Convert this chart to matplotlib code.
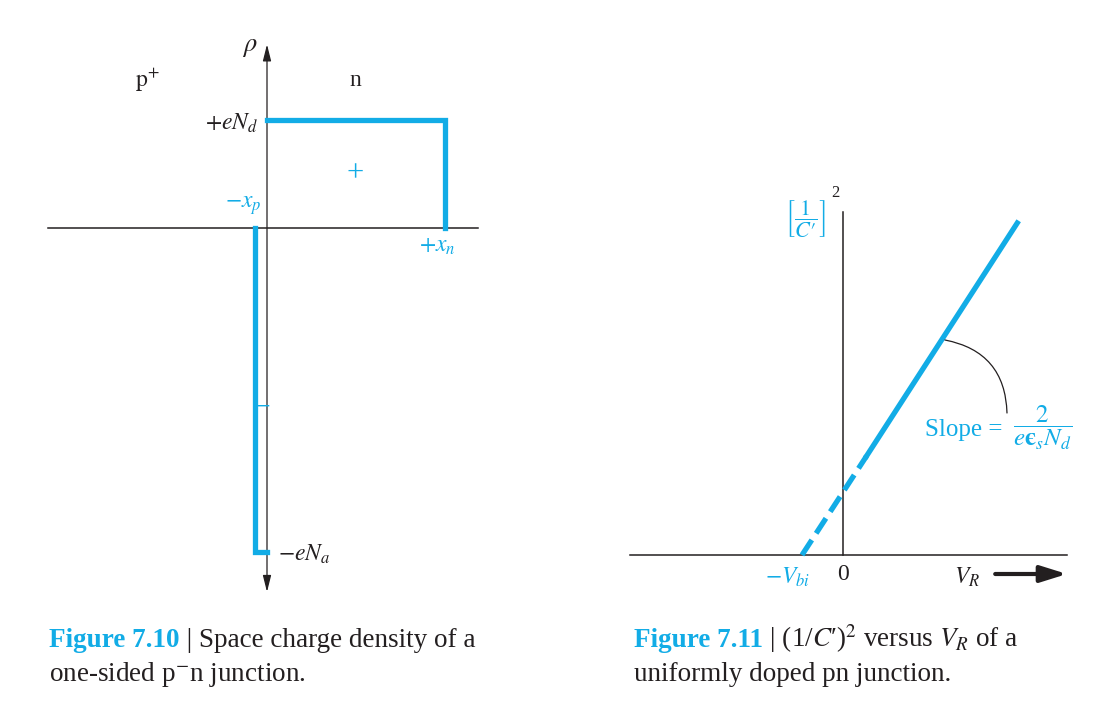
"""Space charge density of a one-sided pn junction and (1/C')^2 vs V_R."""
import matplotlib
matplotlib.use("Agg")
import matplotlib.pyplot as plt

plt.rcParams["font.family"] = ["Liberation Serif", "DejaVu Serif"]
plt.rcParams["mathtext.fontset"] = "stix"

BLUE = "#12ACE6"
BLACK = "#231F20"

# ── data: Figure 7.10 (charge density profile, normalised units) ─────────────
x_p = 0.07          # -x_p edge of the p+ side
x_n = 1.0           # +x_n edge of the n side
rho_d = 1.0         # +eN_d
rho_a = -3.0        # -eN_a
rho_x = [-x_p, -x_p, 0.0]
rho_neg = [0.0, rho_a, rho_a]
rho_x_pos = [0.0, x_n, x_n]
rho_pos = [rho_d, rho_d, 0.0]

# ── data: Figure 7.11 ((1/C')^2 versus V_R) ──────────────────────────────────
v_bi = 0.8
v_dashed = [-v_bi, 0.46]
c2_dashed = [0.0, 0.99]
v_solid = [0.46, 3.4]
c2_solid = [0.99, 3.32]

W, H = 1110, 707
fig = plt.figure(figsize=(W / 100, H / 100), dpi=100)
fig.patch.set_facecolor("white")

# left panel: origin at pixel (267, 228), 178 px per x unit, 108 px per rho unit
ax1 = fig.add_axes([0, 0, 1, 1])
ax1.set_xlim(-267 / 178, (W - 267) / 178)
ax1.set_ylim((228 - H) / 108, 228 / 108)
ax1.axis("off")

ax1.plot([-1.23, 1.185], [0, 0], color=BLACK, lw=1.1, zorder=2)
ax1.annotate("", xy=(0, 1.70), xytext=(0, -3.37),
             arrowprops=dict(arrowstyle="<|-|>,head_length=1.0,head_width=0.25",
                             color=BLACK, lw=0.9, shrinkA=0, shrinkB=0))
ax1.plot(rho_x, rho_neg, color=BLUE, lw=3.8, solid_joinstyle="miter", zorder=3)
ax1.plot(rho_x_pos, rho_pos, color=BLUE, lw=3.8, solid_joinstyle="miter", zorder=3)

fs = 17
ax1.text(-0.096, 1.67, r"$\rho$", fontsize=fs + 2, color=BLACK, ha="center", va="center")
ax1.text(-0.674, 1.37, r"$\mathrm{p}^{+}$", fontsize=fs, color=BLACK, ha="center", va="center")
ax1.text(0.494, 1.37, "n", fontsize=fs, color=BLACK, ha="center", va="center")
ax1.text(-0.05, 0.97, r"$+eN_d$", fontsize=fs, color=BLACK, ha="right", va="center")
ax1.text(0.494, 0.50, "+", fontsize=fs + 5, color=BLUE, ha="center", va="center")
ax1.text(-0.135, 0.21, r"$-x_p$", fontsize=fs, color=BLUE, ha="center", va="center")
ax1.text(0.955, -0.17, r"$+x_n$", fontsize=fs, color=BLUE, ha="center", va="center")
ax1.text(-0.025, -1.67, "−", fontsize=fs + 3, color=BLUE, ha="center", va="center")
ax1.text(0.06, -3.02, r"$-eN_a$", fontsize=fs, color=BLACK, ha="left", va="center")

# right panel: origin at pixel (843, 555), 51.25 px per volt, 100 px per unit
ax2 = fig.add_axes([0, 0, 1, 1])
ax2.set_xlim(-843 / 51.25, (W - 843) / 51.25)
ax2.set_ylim((555 - H) / 100, 555 / 100)
ax2.axis("off")
ax2.patch.set_alpha(0)

ax2.plot([-4.16, 4.37], [0, 0], color=BLACK, lw=1.1, zorder=2)
ax2.plot([0, 0], [0, 3.43], color=BLACK, lw=1.1, zorder=2)
ax2.plot(v_dashed, c2_dashed, color=BLUE, lw=3.8, dashes=(3.4, 1.5), zorder=3)
ax2.plot(v_solid, c2_solid, color=BLUE, lw=3.8, zorder=3)

ax2.text(-0.74, 3.36, r"$\left[\dfrac{1}{C′}\right]$", fontsize=fs - 1, color=BLUE,
         ha="center", va="center")
ax2.text(-0.15, 3.62, "2", fontsize=fs - 5, color=BLACK, ha="center", va="center")
ax2.text(-1.09, -0.22, r"$-V_{bi}$", fontsize=fs, color=BLUE, ha="center", va="center")
ax2.text(0.0, -0.20, "0", fontsize=fs, color=BLACK, ha="center", va="center")
ax2.text(2.42, -0.22, r"$V_R$", fontsize=fs, color=BLACK, ha="center", va="center")
ax2.annotate("", xy=(4.37, -0.19), xytext=(2.97, -0.19),
             arrowprops=dict(arrowstyle="-|>,head_length=1.6,head_width=0.5",
                             color=BLACK, lw=3, shrinkA=0, shrinkB=0))
ax2.annotate("", xy=(3.2, 1.42), xytext=(1.99, 2.15),
             arrowprops=dict(arrowstyle="-", color=BLACK, lw=0.9,
                             connectionstyle="arc3,rad=-0.4", shrinkA=0, shrinkB=0))
ax2.text(3.12, 1.25, "Slope =", fontsize=fs + 1, color=BLUE, ha="right", va="center")
ax2.text(3.90, 1.27, r"$\dfrac{2}{e\mathbf{ϵ}_s N_d}$", fontsize=fs + 1, color=BLUE,
         ha="center", va="center")

# captions: pieces share one baseline, each placed after the previous one
cfs = 19.5
renderer = fig.canvas.get_renderer()


def caption(x, y, parts):
    for text, color, weight in parts:
        t = fig.text(x / W, 1 - y / H, text, fontsize=cfs, color=color,
                     fontweight=weight, ha="left", va="baseline")
        x = t.get_window_extent(renderer).x1


caption(49, 647, [("Figure 7.10", BLUE, "bold"), (" | Space charge density of a", BLACK, "normal")])
caption(49, 681, [(r"one-sided p$^{-}$n junction.", BLACK, "normal")])
caption(634, 647, [("Figure 7.11", BLUE, "bold"),
                   (r" | (1/$C$′)$^2$ versus $V_R$ of a", BLACK, "normal")])
caption(634, 681, [("uniformly doped pn junction.", BLACK, "normal")])

fig.savefig("out.png", dpi=100, facecolor="white")
